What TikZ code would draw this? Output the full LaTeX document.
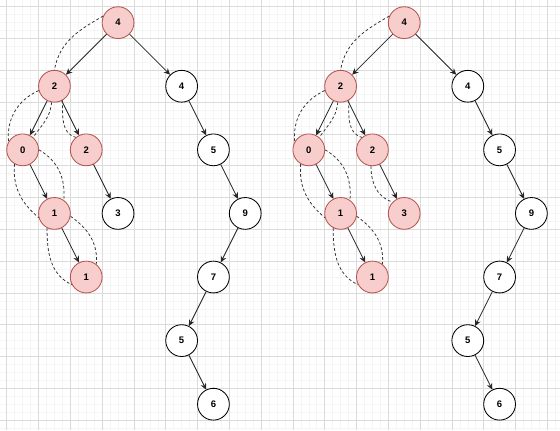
\documentclass[tikz,border=0pt]{standalone}
\usepackage{fontspec}
\setmainfont{Liberation Sans}
\usetikzlibrary{arrows.meta}
\definecolor{hitfill}{HTML}{F8CECC}
\definecolor{hitdraw}{HTML}{B85450}

\begin{document}
\begin{tikzpicture}[
  every node/.style={font=\fontsize{6.8}{8}\selectfont\bfseries},
  plain/.style={circle, draw=black, fill=white, line width=0.6pt,
                minimum size=0.8cm, inner sep=0pt},
  visited/.style={plain, draw=hitdraw, fill=hitfill},
  arrow/.style={-{Stealth[length=4.5pt,width=4.2pt]}, line width=0.6pt, black!85},
  trail/.style={dash pattern=on 2pt off 1.6pt, line width=0.55pt, black!80},
]

%% Background grid
\useasboundingbox (-0.17,0.17) rectangle (13.92,-10.65);
\fill[white] (-0.17,0.17) rectangle (13.92,-10.65);
\draw[gray!8, line width=0.4pt, step=0.2cm] (-0.17,0.17) grid (13.92,-10.65);
\draw[gray!28, line width=0.5pt, step=0.8cm] (-0.17,0.17) grid (13.92,-10.65);

%% Two trees (left: search path, right: after insert)
\foreach \t/\dx/\fc/\dc in {a/0/white/black, b/7.2/hitfill/hitdraw} {
  \node[visited] (\t4)  at (\dx+2.8, -0.4)  {4};
  \node[visited] (\t2)  at (\dx+1.2, -2.0)  {2};
  \node[plain]   (\t4b) at (\dx+4.4, -2.0)  {4};
  \node[visited] (\t0)  at (\dx+0.4, -3.6)  {0};
  \node[visited] (\t2b) at (\dx+2.0, -3.6)  {2};
  \node[plain]   (\t5)  at (\dx+5.2, -3.6)  {5};
  \node[visited] (\t1)  at (\dx+1.2, -5.2)  {1};
  \node[plain, fill=\fc, draw=\dc] (\t3) at (\dx+2.8, -5.2) {3};
  \node[plain]   (\t9)  at (\dx+6.0, -5.2)  {9};
  \node[visited] (\t1b) at (\dx+2.0, -6.8)  {1};
  \node[plain]   (\t7)  at (\dx+5.2, -6.8)  {7};
  \node[plain]   (\t5b) at (\dx+4.4, -8.4)  {5};
  \node[plain]   (\t6)  at (\dx+5.2, -10.0) {6};

  %% Tree edges
  \foreach \p/\c in {4/2, 4/4b, 2/0, 2/2b, 4b/5, 0/1, 2b/3, 5/9, 1/1b, 9/7, 7/5b, 5b/6} {
    \draw[arrow] (\t\p) -- (\t\c);
  }

  %% Dashed trail round the visited nodes
  \draw[trail] (\t4.156)  to[out=210, in=80]  (\t2.north);
  \draw[trail] (\t2.195)  to[out=205, in=95]  (\t0.150);
  \draw[trail] (\t2.-100) to[out=-95, in=55]  (\t0.50);
  \draw[trail] (\t2.-60)  to[out=-90, in=165] (\t2b.130);
  \draw[trail] (\t0.240)  to[out=-95, in=140] (\t1.195);
  \draw[trail] (\t0.0)    to[out=-30, in=85]  (\t1.55);
  \draw[trail] (\t1.243)  to[out=-90, in=155] (\t1b.208);
  \draw[trail] (\t1.-10)  to[out=-35, in=85]  (\t1b.52);
}

%% Extra trail down to the inserted node
\draw[trail] (b2b.-95) to[out=-90, in=165] (b3.135);

\end{tikzpicture}
\end{document}
